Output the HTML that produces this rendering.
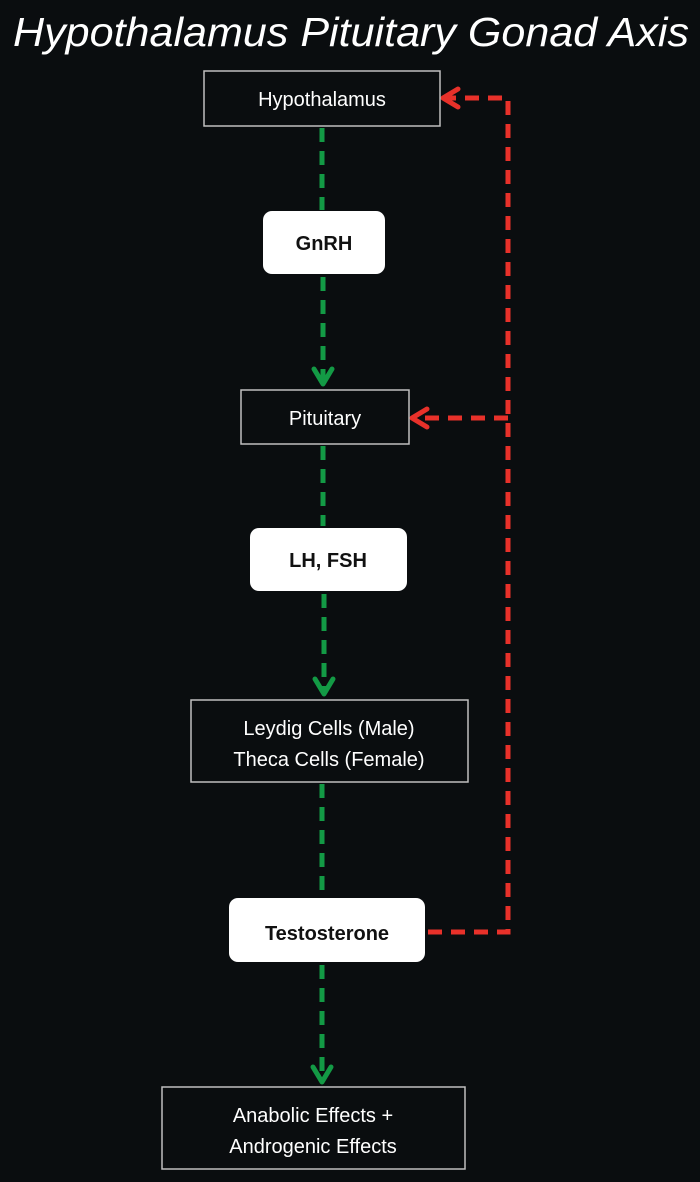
<!DOCTYPE html>
<html><head><style>
body{margin:0;background:#0a0d0f;}
svg{display:block}
</style></head><body>
<svg width="700" height="1182" xmlns="http://www.w3.org/2000/svg">
<rect width="700" height="1182" fill="#0a0d0f"/>
<text x="351" y="46" text-anchor="middle" font-family="Liberation Sans, sans-serif" font-style="italic" font-size="41" fill="#fff" textLength="676" lengthAdjust="spacingAndGlyphs">Hypothalamus Pituitary Gonad Axis</text>
<g stroke="#139a45" stroke-width="5" stroke-dasharray="14,9" fill="none">
<line x1="322" y1="128" x2="322" y2="210"/>
<line x1="323" y1="277" x2="323" y2="384"/>
<line x1="323" y1="446" x2="323" y2="526"/>
<line x1="324" y1="594" x2="324" y2="694"/>
<line x1="322" y1="784" x2="322" y2="896"/>
<line x1="322" y1="965" x2="322" y2="1082"/>
</g>
<g stroke="#139a45" stroke-width="5" fill="none" stroke-linecap="round" stroke-linejoin="round">
<polyline points="314,369 323,384 332,369"/>
<polyline points="315,679 324,694 333,679"/>
<polyline points="313,1067 322,1082 331,1067"/>
</g>
<g stroke="#e8312a" stroke-width="5" stroke-dasharray="14,9" fill="none">
<polyline points="428,932 508,932 508,98 446,98"/>
<line x1="508" y1="418" x2="416" y2="418"/>
</g>
<g stroke="#e8312a" stroke-width="5" fill="none" stroke-linecap="round" stroke-linejoin="round">
<polyline points="458,89 443,98 458,107"/>
<polyline points="427,409 412,418 427,427"/>
</g>
<g fill="#0a0d0f" stroke="#bfbfbf" stroke-width="1.5">
<rect x="204" y="71" width="236" height="55"/>
<rect x="241" y="390" width="168" height="54"/>
<rect x="191" y="700" width="277" height="82"/>
<rect x="162" y="1087" width="303" height="82"/>
</g>
<g fill="#fff">
<rect x="263" y="211" width="122" height="63" rx="9"/>
<rect x="250" y="528" width="157" height="63" rx="9"/>
<rect x="229" y="898" width="196" height="64" rx="9"/>
</g>
<g font-family="Liberation Sans, sans-serif" font-size="20" fill="#fff" text-anchor="middle">
<text x="322" y="106">Hypothalamus</text>
<text x="325" y="425">Pituitary</text>
<text x="329" y="735">Leydig Cells (Male)</text>
<text x="329" y="766">Theca Cells (Female)</text>
<text x="313" y="1122">Anabolic Effects +</text>
<text x="313" y="1153">Androgenic Effects</text>
</g>
<g font-family="Liberation Sans, sans-serif" font-size="20" font-weight="bold" fill="#111" text-anchor="middle">
<text x="324" y="250">GnRH</text>
<text x="328" y="567">LH, FSH</text>
<text x="327" y="940">Testosterone</text>
</g>
</svg>
</body></html>
